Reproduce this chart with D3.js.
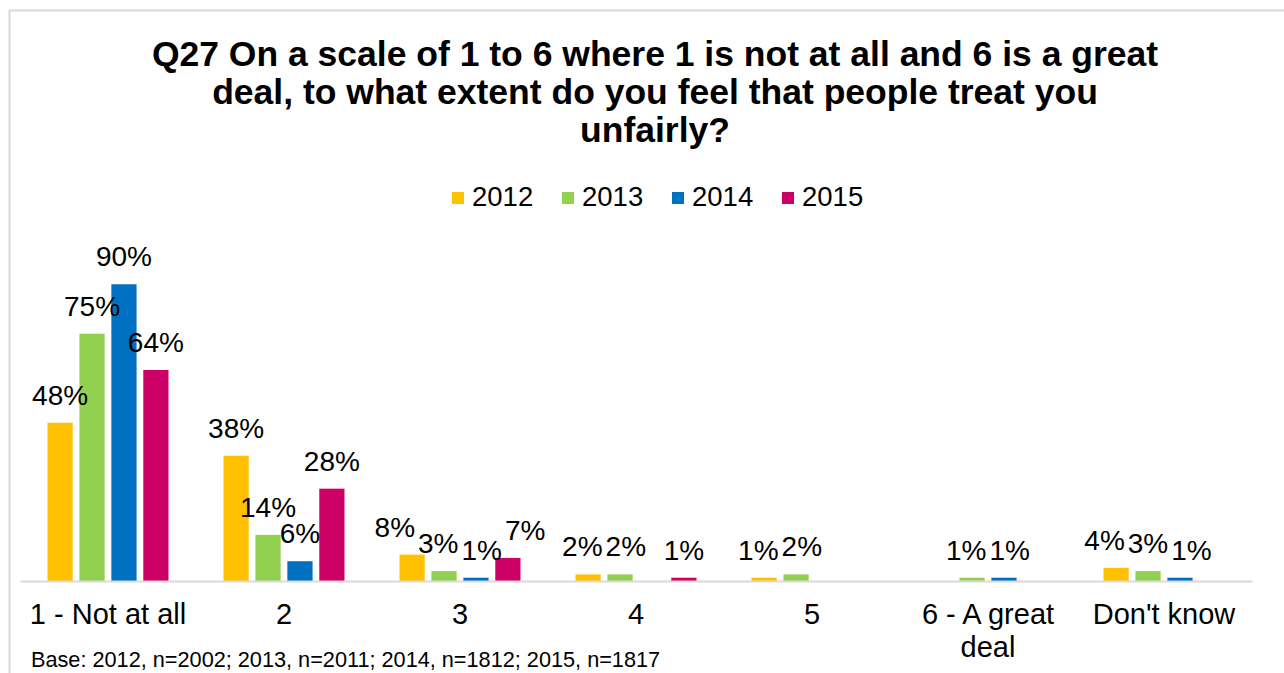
<!DOCTYPE html>
<html>
<head>
<meta charset="utf-8">
<script src="https://cdn.jsdelivr.net/npm/d3@7"></script>
<style>
  html, body { margin: 0; padding: 0; background: #fff; }
  svg { display: block; font-family: "Liberation Sans", Arial, sans-serif; }
</style>
</head>
<body>
<svg id="chart" width="1284" height="673"></svg>
<script>
// ---- data ----
const titleLines = [
  "Q27 On a scale of 1 to 6 where 1 is not at all and 6 is a great",
  "deal, to what extent do you feel that people treat you",
  "unfairly?"
];
const categories = ["1 - Not at all", "2", "3", "4", "5", "6 - A great deal", "Don't know"];
const categoryLines = [["1 - Not at all"], ["2"], ["3"], ["4"], ["5"], ["6 - A great", "deal"], ["Don't know"]];
const years = ["2012", "2013", "2014", "2015"];
const values2012 = [48, 38, 8, 2, 1, null, 4];
const values2013 = [75, 14, 3, 2, 2, 1, 3];
const values2014 = [90, 6, 1, null, null, 1, 1];
const values2015 = [64, 28, 7, 1, null, null, null];
const colors = ["#FFC000", "#92D050", "#0070C0", "#CC0066"];
const baseNote = "Base: 2012, n=2002; 2013, n=2011; 2014, n=1812; 2015, n=1817";

const seriesValues = [values2012, values2013, values2014, values2015];

const svg = d3.select("#chart");

// frame
svg.append("rect")
  .attr("x", 9.5).attr("y", 10.5)
  .attr("width", 1300).attr("height", 700)
  .attr("fill", "none").attr("stroke", "#D9D9D9").attr("stroke-width", 2);

// scales
const baseY = 581;
const x0 = d3.scaleBand().domain(categories).range([20, 1252]).padding(0);
const x1 = d3.scaleBand().domain(years).range([-60.5, 60.5]).paddingInner(0.21);
const y = d3.scaleLinear().domain([0, 100]).range([baseY, baseY - 329.7]);

// title
const title = svg.append("text")
  .attr("text-anchor", "middle")
  .attr("font-weight", "bold")
  .attr("font-size", 35.5)
  .attr("fill", "#000");
titleLines.forEach((t, i) => {
  title.append("tspan").attr("x", 655).attr("y", 66 + i * 38).text(t);
});

// legend
const legend = svg.append("g").attr("font-size", 27.5);
years.forEach((yr, i) => {
  const gx = 452 + i * 110;
  legend.append("rect").attr("x", gx).attr("y", 192).attr("width", 12).attr("height", 12).attr("fill", colors[i]);
  legend.append("text").attr("x", gx + 20).attr("y", 206).attr("fill", "#000").text(yr);
});

// bars first
const barsG = svg.append("g");
const labelsG = svg.append("g");
const labelGroups = [];
categories.forEach((c, ci) => {
  const cx = x0(c) + x0.bandwidth() / 2;
  const group = [];
  years.forEach((yr, si) => {
    const v = seriesValues[si][ci];
    if (v == null) return;
    const bx = cx + x1(yr);
    barsG.append("rect")
      .attr("x", bx).attr("y", y(v))
      .attr("width", x1.bandwidth()).attr("height", baseY - y(v))
      .attr("fill", colors[si]);
    const t = labelsG.append("text")
      .attr("y", y(v) - 18)
      .attr("text-anchor", "middle").attr("font-size", 28).attr("fill", "#000")
      .text(v + "%");
    group.push({ t, x: bx + x1.bandwidth() / 2, y: y(v) - 18, w: t.node().getComputedTextLength() });
  });
  labelGroups.push(group);
});

// simple spread of labels that collide (as the source chart nudges them)
const gap = 3, textH = 21;
labelGroups.forEach(group => {
  for (let iter = 0; iter < 60; iter++) {
    for (let i = 0; i < group.length - 1; i++) {
      const a = group[i], b = group[i + 1];
      if (Math.abs(a.y - b.y) >= textH) continue;
      const need = (a.w + b.w) / 2 + gap;
      const cur = b.x - a.x;
      if (cur < need) {
        const d = (need - cur) / 2;
        a.x -= d; b.x += d;
      }
    }
  }
  group.forEach(l => l.t.attr("x", l.x));
});

// baseline axis
const axis = d3.axisBottom(x0).tickSize(0).tickFormat("");
const ax = svg.append("g").attr("transform", `translate(0,${baseY})`).call(axis);
ax.select(".domain").attr("stroke", "#D9D9D9").attr("stroke-width", 2);

// category labels
categories.forEach((c, ci) => {
  const cx = x0(c) + x0.bandwidth() / 2;
  const t = svg.append("text").attr("text-anchor", "middle").attr("font-size", 29).attr("fill", "#000");
  categoryLines[ci].forEach((ln, li) => {
    t.append("tspan").attr("x", cx).attr("y", 624 + li * 33).text(ln);
  });
});

// base note
svg.append("text").attr("x", 31).attr("y", 667).attr("font-size", 21.7).attr("fill", "#000").text(baseNote);
</script>
</body>
</html>
